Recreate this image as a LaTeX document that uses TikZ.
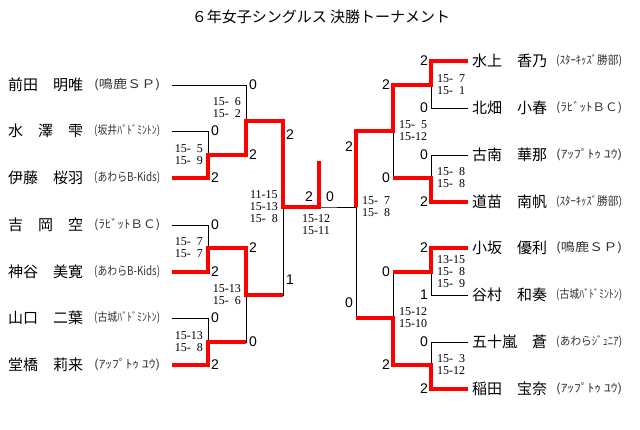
\documentclass[tikz,border=0pt]{standalone}
\usepackage{fontspec}
\setmainfont{Liberation Serif}
\newfontfamily\jpfont{Noto Sans CJK JP}
\newfontfamily\digfont{Liberation Sans}
\newcommand{\dsp}{\phantom{1}}
\newcommand{\teambox}[1]{\resizebox{66pt}{10pt}{#1}}

\begin{document}
\begin{tikzpicture}[x=1pt,y=-1pt,
  lose/.style={black, line width=1pt},
  win/.style={red, line width=3.2pt},
  nm/.style={anchor=west, inner sep=0pt, font=\jpfont\fontsize{15}{15}\selectfont},
  tm/.style={anchor=west, inner sep=0pt, text=black!80, font=\jpfont\fontsize{12}{12}\selectfont},
  sc/.style={inner sep=0pt, font=\digfont\fontsize{14}{14}\selectfont},
  gm/.style={inner sep=0pt, align=center, font=\fontsize{12}{12}\selectfont}]
\useasboundingbox (0,0) rectangle (640,429);

\node[font=\jpfont\fontsize{15}{15}\selectfont] (title) at (321,17) {６年女子シングルス 決勝トーナメント};

% players left
\foreach \i/\y/\n/\t in {1/85/前田　明唯/(鳴鹿ＳＰ), 2/131/水　澤　雫/(坂井ﾊﾞﾄﾞﾐﾝﾄﾝ),
  3/178/伊藤　桜羽/(あわらB-Kids), 4/225/吉　岡　空/(ﾗﾋﾞｯﾄＢＣ), 5/272/神谷　美寛/(あわらB-Kids),
  6/318/山口　二葉/(古城ﾊﾞﾄﾞﾐﾝﾄﾝ), 7/365/堂橋　莉来/(ｱｯﾌﾟﾄｩ ﾕｳ)}
{
  \node[nm] (nl\i) at (8,\y) {\n};
  \node[tm] (tl\i) at (94,\y) {\teambox{\t}};
  \coordinate (l\i) at (172,\y);
}
% players right
\foreach \i/\y/\n/\t in {1/61/水上　香乃/(ｽﾀｰｷｯｽﾞ勝部), 2/108/北畑　小春/(ﾗﾋﾞｯﾄＢＣ),
  3/155/古南　華那/(ｱｯﾌﾟﾄｩ ﾕｳ), 4/202/道苗　南帆/(ｽﾀｰｷｯｽﾞ勝部), 5/248/小坂　優利/(鳴鹿ＳＰ),
  6/295/谷村　和奏/(古城ﾊﾞﾄﾞﾐﾝﾄﾝ), 7/342/五十嵐　蒼/(あわらｼﾞｭﾆｱ), 8/389/稲田　宝奈/(ｱｯﾌﾟﾄｩ ﾕｳ)}
{
  \node[nm] (nr\i) at (472,\y) {\n};
  \node[tm] (tr\i) at (556,\y) {\teambox{\t}};
  \coordinate (r\i) at (468,\y);
}

% match points
\coordinate (mA) at (208,155);
\coordinate (mB) at (246,121);
\coordinate (mC) at (208,248);
\coordinate (mD) at (208,342);
\coordinate (mE) at (246,295);
\coordinate (mF) at (283,207);
\coordinate (fin) at (319,207);
\coordinate (top) at (319,161);
\coordinate (mG) at (356,207);
\coordinate (ma) at (431,85);
\coordinate (mb) at (431,178);
\coordinate (mc) at (393,131);
\coordinate (md) at (431,272);
\coordinate (me) at (431,365);
\coordinate (mf) at (393,318);

% bracket
\foreach \a/\b in {l1/mB, l2/mA, l3/mA, mA/mB, mB/mF, l4/mC, l5/mC, l6/mD, l7/mD, mC/mE, mD/mE, mE/mF,
  r1/ma, r2/ma, r3/mb, r4/mb, ma/mc, mb/mc, r5/md, r6/md, r7/me, r8/me, md/mf, me/mf, mc/mG, mf/mG}
  \draw[lose] (\a) -| (\b);
\draw[lose] (mF) -- (fin) -- (mG);

% winners
\draw[win] (l3) -| (mA) -| (mB) -| (mF) -- (fin) -- (top);
\draw[win] (l5) -| (mC) -| (mE) -- (mE -| mF);
\draw[win] (l7) -| (mD) -- (mD -| mE);
\draw[win] (r1) -| (ma) -| (mc) -| (mG);
\draw[win] (r4) -| (mb) -- (mb -| mc);
\draw[win] (r5) -| (md) -- (md -| mf);
\draw[win] (r8) -| (me) -| (mf) -- (mf -| mG);

% points
\node[sc, anchor=west] at (249,85) {0};
\node[sc, anchor=west] at (211,131) {0};
\node[sc, anchor=west] at (211,178) {2};
\node[sc, anchor=west] at (249,155) {2};
\node[sc, anchor=west] at (286,135) {2};
\node[sc, anchor=west] at (211,225) {0};
\node[sc, anchor=west] at (211,272) {2};
\node[sc, anchor=west] at (249,248) {2};
\node[sc, anchor=west] at (286,280) {1};
\node[sc, anchor=west] at (211,318) {0};
\node[sc, anchor=west] at (249,342) {0};
\node[sc, anchor=west] at (211,365) {2};
\node[sc] at (309,197) {2};
\node[sc] at (330,197) {0};
\node[sc, anchor=east] at (428,61) {2};
\node[sc, anchor=east] at (428,108) {0};
\node[sc, anchor=east] at (428,155) {0};
\node[sc, anchor=east] at (428,202) {2};
\node[sc, anchor=east] at (428,248) {2};
\node[sc, anchor=east] at (428,295) {1};
\node[sc, anchor=east] at (428,342) {0};
\node[sc, anchor=east] at (428,389) {2};
\node[sc, anchor=east] at (390,85) {2};
\node[sc, anchor=east] at (390,178) {0};
\node[sc, anchor=east] at (390,272) {0};
\node[sc, anchor=east] at (390,365) {2};
\node[sc, anchor=east] at (353,147) {2};
\node[sc, anchor=east] at (353,303) {0};

% game scores
\node[gm, anchor=east] (gA) at (203,155) {15-\dsp5\\15-\dsp9};
\node[gm, anchor=east] (gB) at (241,108) {15-\dsp6\\15-\dsp2};
\node[gm, anchor=east] (gC) at (203,248) {15-\dsp7\\15-\dsp7};
\node[gm, anchor=east] (gD) at (203,342) {15-13\\15-\dsp8};
\node[gm, anchor=east] (gE) at (241,295) {15-13\\15-\dsp6};
\node[gm, anchor=east] (gF) at (278,207) {11-15\\15-13\\15-\dsp8};
\node[gm] (gfin) at (316,225) {15-12\\15-11};
\node[gm, anchor=west] (gG) at (362,207) {15-\dsp7\\15-\dsp8};
\node[gm, anchor=west] (gc) at (399,131) {15-\dsp5\\15-12};
\node[gm, anchor=west] (gf) at (399,318) {15-12\\15-10};
\node[gm, anchor=west] (ga) at (437,85) {15-\dsp7\\15-\dsp1};
\node[gm, anchor=west] (gb) at (437,178) {15-\dsp8\\15-\dsp8};
\node[gm, anchor=west] (gd) at (437,272) {13-15\\15-\dsp8\\15-\dsp9};
\node[gm, anchor=west] (ge) at (437,365) {15-\dsp3\\15-12};
\end{tikzpicture}
\end{document}
